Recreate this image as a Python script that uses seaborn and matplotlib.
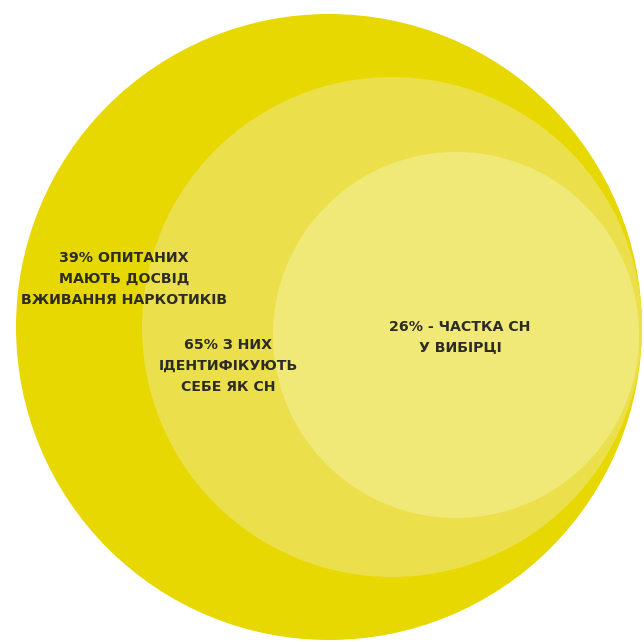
import matplotlib
matplotlib.use("Agg")
import matplotlib.pyplot as plt
from matplotlib.patches import Circle
import seaborn as sns

# Survey shares shown in the nested circles (outer -> inner)
shares = [39, 65, 26]
labels = [
    "{}% ОПИТАНИХ\nМАЮТЬ ДОСВІД\nВЖИВАННЯ НАРКОТИКІВ",
    "{}% З НИХ\nІДЕНТИФІКУЮТЬ\nСЕБЕ ЯК СН",
    "{}% - ЧАСТКА СН\nУ ВИБІРЦІ",
]
fill_colors = ["#e6d800", "#ebe04c", "#f1e977"]

# Circle geometry in pixel-like units (x, y, radius)
circle_geom = [(329, 327, 313), (392, 327, 250), (456, 335, 183)]
label_pos = [(124, 279), (228, 366), (460, 337)]

sns.set_theme(style="white")
plt.rcParams["font.family"] = ["DejaVu Sans"]

fig = plt.figure(figsize=(6.44, 6.42), dpi=100)
ax = fig.add_axes([0, 0, 1, 1])
ax.set_xlim(0, 644)
ax.set_ylim(642, 0)
ax.set_aspect("equal")
ax.axis("off")

for (cx, cy, r), col in zip(circle_geom, fill_colors):
    ax.add_patch(Circle((cx, cy), r, facecolor=col, edgecolor="none"))

for share, text, (tx, ty) in zip(shares, labels, label_pos):
    ax.text(tx, ty, text.format(share), ha="center", va="center",
            fontsize=10.2, fontweight="bold", color="#2c2c24",
            linespacing=1.6)

fig.savefig("out.png", dpi=100, facecolor="white")
